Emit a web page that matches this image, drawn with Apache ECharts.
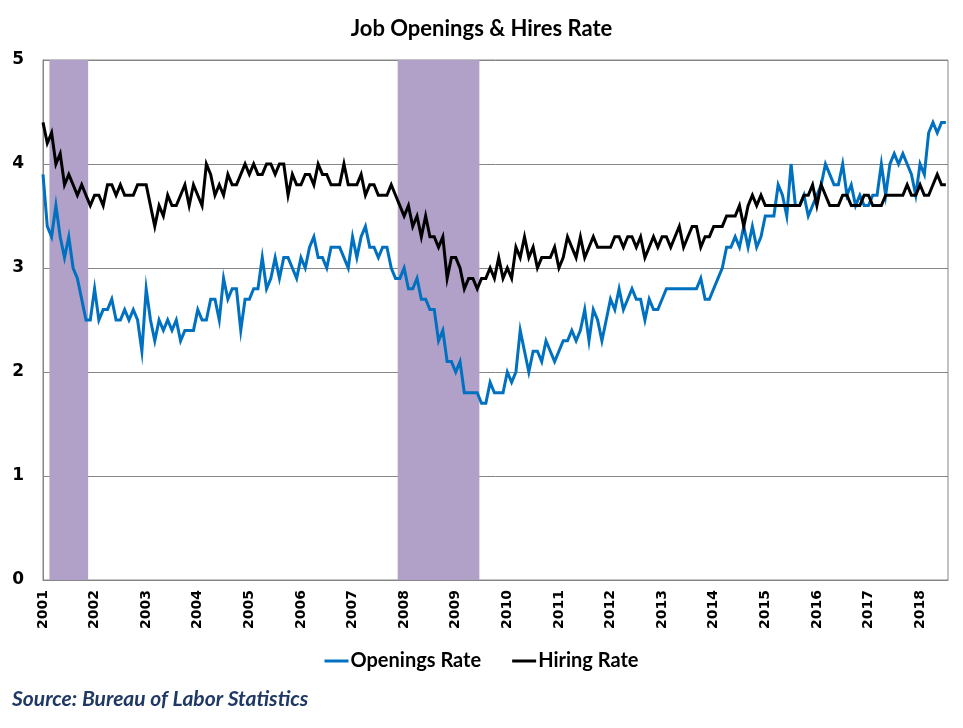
<!DOCTYPE html>
<html>
<head>
<meta charset="utf-8">
<script src="https://cdn.jsdelivr.net/npm/echarts@6/dist/echarts.min.js"></script>
<style>
html,body{margin:0;padding:0;background:#fff;}
#chart{width:963px;height:728px;}
</style>
</head>
<body>
<div id="chart"></div>
<script>
// ---- Data (monthly, Jan 2001 - Jul 2018) ----
const startYear = 2001;
const openingsRate = [
  3.9,3.4,3.3,3.6,3.3,3.1,3.3,3.0,2.9,2.7,2.5,2.5,
  2.8,2.5,2.6,2.6,2.7,2.5,2.5,2.6,2.5,2.6,2.5,2.2,
  2.8,2.5,2.3,2.5,2.4,2.5,2.4,2.5,2.3,2.4,2.4,2.4,
  2.6,2.5,2.5,2.7,2.7,2.5,2.9,2.7,2.8,2.8,2.4,2.7,
  2.7,2.8,2.8,3.1,2.8,2.9,3.1,2.9,3.1,3.1,3.0,2.9,
  3.1,3.0,3.2,3.3,3.1,3.1,3.0,3.2,3.2,3.2,3.1,3.0,
  3.3,3.1,3.3,3.4,3.2,3.2,3.1,3.2,3.2,3.0,2.9,2.9,
  3.0,2.8,2.8,2.9,2.7,2.7,2.6,2.6,2.3,2.4,2.1,2.1,
  2.0,2.1,1.8,1.8,1.8,1.8,1.7,1.7,1.9,1.8,1.8,1.8,
  2.0,1.9,2.0,2.4,2.2,2.0,2.2,2.2,2.1,2.3,2.2,2.1,
  2.2,2.3,2.3,2.4,2.3,2.4,2.6,2.3,2.6,2.5,2.3,2.5,
  2.7,2.6,2.8,2.6,2.7,2.8,2.7,2.7,2.5,2.7,2.6,2.6,
  2.7,2.8,2.8,2.8,2.8,2.8,2.8,2.8,2.8,2.9,2.7,2.7,
  2.8,2.9,3.0,3.2,3.2,3.3,3.2,3.4,3.2,3.4,3.2,3.3,
  3.5,3.5,3.5,3.8,3.7,3.5,4.0,3.6,3.6,3.7,3.5,3.6,
  3.7,3.8,4.0,3.9,3.8,3.8,4.0,3.7,3.8,3.6,3.7,3.6,
  3.6,3.7,3.7,4.0,3.7,4.0,4.1,4.0,4.1,4.0,3.9,3.7,
  4.0,3.9,4.3,4.4,4.3,4.4,4.4
];
const hiringRate = [
  4.4,4.2,4.3,4.0,4.1,3.8,3.9,3.8,3.7,3.8,3.7,3.6,
  3.7,3.7,3.6,3.8,3.8,3.7,3.8,3.7,3.7,3.7,3.8,3.8,
  3.8,3.6,3.4,3.6,3.5,3.7,3.6,3.6,3.7,3.8,3.6,3.8,
  3.7,3.6,4.0,3.9,3.7,3.8,3.7,3.9,3.8,3.8,3.9,4.0,
  3.9,4.0,3.9,3.9,4.0,4.0,3.9,4.0,4.0,3.7,3.9,3.8,
  3.8,3.9,3.9,3.8,4.0,3.9,3.9,3.8,3.8,3.8,4.0,3.8,
  3.8,3.8,3.9,3.7,3.8,3.8,3.7,3.7,3.7,3.8,3.7,3.6,
  3.5,3.6,3.4,3.5,3.3,3.5,3.3,3.3,3.2,3.3,2.9,3.1,
  3.1,3.0,2.8,2.9,2.9,2.8,2.9,2.9,3.0,2.9,3.1,2.9,
  3.0,2.9,3.2,3.1,3.3,3.1,3.2,3.0,3.1,3.1,3.1,3.2,
  3.0,3.1,3.3,3.2,3.1,3.3,3.1,3.2,3.3,3.2,3.2,3.2,
  3.2,3.3,3.3,3.2,3.3,3.3,3.2,3.3,3.1,3.2,3.3,3.2,
  3.3,3.3,3.2,3.3,3.4,3.2,3.3,3.4,3.4,3.2,3.3,3.3,
  3.4,3.4,3.4,3.5,3.5,3.5,3.6,3.4,3.6,3.7,3.6,3.7,
  3.6,3.6,3.6,3.6,3.6,3.6,3.6,3.6,3.6,3.7,3.7,3.8,
  3.6,3.8,3.7,3.6,3.6,3.6,3.7,3.7,3.6,3.6,3.6,3.7,
  3.7,3.6,3.6,3.6,3.7,3.7,3.7,3.7,3.7,3.8,3.7,3.7,
  3.8,3.7,3.7,3.8,3.9,3.8,3.8
];
const recessionStart = ['2001-03', '2007-12'];
const recessionEnd   = ['2001-11', '2009-06'];
const xTickLabels = ['2001','2002','2003','2004','2005','2006','2007','2008','2009',
                     '2010','2011','2012','2013','2014','2015','2016','2017','2018'];
const yTicks = [0, 1, 2, 3, 4, 5];
const seriesNames = ['Openings Rate', 'Hiring Rate'];

// ---- Build ----
function monthIndex(s) {
  const [y, m] = s.split('-').map(Number);
  return (y - startYear) * 12 + (m - 1);
}
const toPairs = arr => arr.map((v, i) => [i, v]);
const recessionAreas = recessionStart.map((s, k) => [
  { xAxis: monthIndex(s) - 0.5 },
  { xAxis: monthIndex(recessionEnd[k]) + 0.5 }
]);

const FONT = 'Lato, "Open Sans", sans-serif';
const chart = echarts.init(document.getElementById('chart'), null, { renderer: 'canvas' });
chart.setOption({
  animation: false,
  backgroundColor: '#ffffff',
  title: {
    text: 'Job Openings & Hires Rate',
    left: 'center',
    top: 13,
    textStyle: { fontFamily: FONT, fontWeight: 'bold', fontSize: 22, color: '#000' }
  },
  graphic: [{
    type: 'text',
    left: 12,
    top: 689,
    style: {
      text: 'Source: Bureau of Labor Statistics',
      font: 'italic bold 21px ' + FONT,
      fill: '#1F3864'
    }
  }],
  legend: {
    data: seriesNames,
    bottom: 52,
    left: 'center',
    itemWidth: 24,
    itemHeight: 3,
    itemGap: 31,
    icon: 'rect',
    textStyle: { fontFamily: FONT, fontWeight: 'bold', fontSize: 20, color: '#000', padding: [0, 0, 0, -3] }
  },
  grid: {
    left: 43, right: 15, top: 60, bottom: 148,
    show: true, borderColor: '#868686', borderWidth: 1
  },
  xAxis: {
    type: 'value',
    min: 0,
    max: 210.5,
    interval: 12,
    axisLine: { show: true, lineStyle: { color: '#868686', width: 1 } },
    axisTick: { show: false },
    splitLine: { show: false },
    axisLabel: {
      rotate: 90,
      margin: 10,
      fontFamily: '"DejaVu Sans", sans-serif',
      fontWeight: 'bold',
      fontSize: 14,
      color: '#000',
      formatter: v => (v % 12 === 0 && xTickLabels[v / 12]) ? xTickLabels[v / 12] : ''
    }
  },
  yAxis: {
    type: 'value',
    min: yTicks[0],
    max: yTicks[yTicks.length - 1],
    interval: 1,
    axisLine: { show: true, lineStyle: { color: '#868686', width: 1 } },
    axisTick: { show: false },
    splitLine: { show: true, lineStyle: { color: '#868686', width: 1 } },
    axisLabel: {
      margin: 19,
      fontFamily: '"DejaVu Sans", sans-serif',
      fontWeight: 'bold',
      fontSize: 17,
      color: '#000'
    }
  },
  series: [
    {
      name: 'recession',
      type: 'line',
      data: [],
      z: 1,
      silent: true,
      markArea: {
        silent: true,
        itemStyle: { color: '#B1A0C7', opacity: 1 },
        data: recessionAreas
      }
    },
    {
      name: seriesNames[0],
      type: 'line',
      z: 3,
      data: toPairs(openingsRate),
      showSymbol: false,
      symbol: 'none',
      color: '#0070C0',
      lineStyle: { color: '#0070C0', width: 3, join: 'miter' }
    },
    {
      name: seriesNames[1],
      type: 'line',
      z: 4,
      data: toPairs(hiringRate),
      showSymbol: false,
      symbol: 'none',
      color: '#000000',
      lineStyle: { color: '#000000', width: 3, join: 'miter' }
    }
  ]
});
</script>
</body>
</html>
